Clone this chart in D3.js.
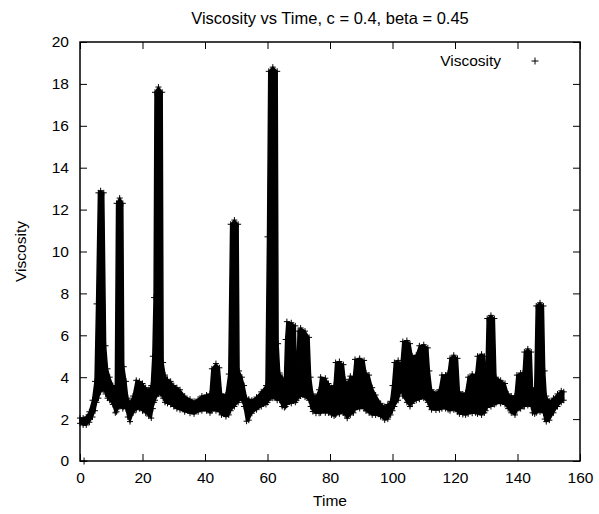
<!DOCTYPE html>
<html>
<head>
<meta charset="utf-8">
<script src="https://cdn.jsdelivr.net/npm/d3@7/dist/d3.min.js"></script>
<style>
  html, body { margin: 0; padding: 0; background: #fff; }
  svg { display: block; font-family: "Liberation Sans", Arial, sans-serif; }
</style>
</head>
<body>
<svg id="chart" width="599" height="514"></svg>
<script>
// ---- data (band envelopes of the dense "+" cloud) ----
const time = [0,1,2,3,4,4.8,5.3,5.9,6.6,7.6,8.2,8.8,9.5,10.5,11.3,11.7,12.7,13.7,14.0,14.7,15.3,16,17,18,19,20,21,22,22.8,23.3,23.7,24.0,25.1,26.3,26.6,27.2,28,29,30,31,32,33.5,35.2,36.5,37.8,39,40.5,41.6,42.2,43.5,44.6,45.3,46.7,47.6,48.2,49.4,50.6,50.9,51.8,52.5,53.3,54,55,56.5,58,59.5,60.0,60.4,61.7,63.1,63.4,63.9,64.7,65.4,65.8,66.2,67.6,68.9,69.3,69.8,70.6,72.0,73.3,73.8,74.5,75.5,76.5,77,78.5,79.5,80.5,81.3,81.8,83.0,84.3,84.8,85.5,86.5,87.5,88.0,89.5,90.9,91.5,92.5,93.5,94.6,96.2,97.5,98.5,99.4,100,100.6,101.8,102.7,103.3,104.6,105.6,106.3,107.6,108.6,110,111.3,111.8,112.5,113.9,115,115.8,117,117.8,118.4,119.6,120.8,121.4,122.5,123.4,124.2,125.5,126.6,127.2,128.5,129.4,129.8,130.3,131.5,132.6,133.1,134.6,136,137,138,139.2,139.8,141,141.8,142.2,143.3,144.4,144.8,145.5,146,147.2,148.3,148.7,149.2,150.2,151.5,152.8,154,154.8];
const viscLow = [1.8,1.72,1.72,1.85,2.1,2.4,2.8,3.0,3.3,3.4,3.2,3.0,2.9,2.7,2.3,2.35,2.6,2.5,2.6,2.5,2.1,1.88,2.3,2.45,2.5,2.4,2.3,2.15,2.05,2.5,2.8,2.9,3.2,3.1,3.0,2.8,2.75,2.7,2.6,2.5,2.45,2.35,2.28,2.25,2.35,2.4,2.4,2.3,2.4,2.4,2.35,2.2,2.12,2.2,2.4,2.6,2.8,2.9,2.9,2.6,1.9,1.95,2.28,2.45,2.6,2.7,2.8,2.9,3.0,2.9,3.0,2.9,2.6,2.55,2.6,2.7,2.75,2.8,2.9,3.0,3.1,3.05,2.9,2.6,2.36,2.28,2.28,2.3,2.3,2.3,2.2,2.15,2.2,2.25,2.3,2.2,2.04,2.2,2.3,2.45,2.51,2.5,2.4,2.3,2.2,2.2,2.12,1.96,2.0,2.2,2.4,2.6,2.9,3.35,3.1,2.8,2.6,2.75,2.9,2.95,3.0,2.8,2.6,2.45,2.43,2.45,2.5,2.5,2.45,2.4,2.45,2.35,2.25,2.22,2.2,2.25,2.28,2.3,2.25,2.2,2.3,2.4,2.55,2.6,2.7,2.75,2.75,2.7,2.5,2.3,2.2,2.4,2.5,2.6,2.6,2.65,2.6,2.3,2.25,2.3,2.35,2.3,2.0,1.88,1.95,2.3,2.6,2.8,2.9];
const viscHigh = [2.05,2.05,2.1,2.35,2.9,3.8,7.5,12.8,12.9,12.8,5.5,4.4,4.0,3.6,3.5,12.3,12.55,12.3,4.5,3.8,3.0,2.8,3.1,3.85,3.8,3.7,3.5,3.4,3.6,5.0,7.8,17.6,17.85,17.6,4.7,4.1,3.9,3.8,3.6,3.5,3.4,3.1,2.95,2.85,2.95,3.1,3.15,3.2,4.4,4.65,4.45,3.2,3.15,4.15,11.3,11.5,11.3,4.3,4.0,3.6,3.0,2.95,2.9,3.05,3.3,3.6,10.7,18.6,18.8,18.6,5.6,4.2,4.0,3.8,5.8,6.65,6.6,6.45,4.0,6.2,6.35,6.2,5.9,4.0,3.2,3.07,3.4,4.0,3.95,3.7,3.5,3.6,4.7,4.75,4.6,3.9,3.7,4.05,4.0,4.85,4.9,4.8,4.2,4.1,3.5,3.15,2.75,2.6,2.7,2.85,3.6,4.7,4.8,4.6,5.7,5.75,5.6,5.0,5.05,5.5,5.55,5.4,4.3,3.4,3.25,3.4,4.1,4.1,4.2,4.9,5.05,4.9,3.3,3.2,3.25,4.0,4.15,4.1,5.0,5.1,5.0,3.6,6.8,6.95,6.8,4.0,3.85,3.7,3.2,3.1,3.1,4.1,4.2,4.2,5.2,5.35,5.2,3.5,3.4,7.4,7.55,7.4,4.3,3.1,2.85,3.0,3.2,3.35,3.3];
// isolated point sitting on the time axis
const extraTime = [1.3];
const extraVisc = [0];

const xTicks = [0,20,40,60,80,100,120,140,160];
const yTicks = [0,2,4,6,8,10,12,14,16,18,20];
const titleText = "Viscosity vs Time, c = 0.4, beta = 0.45";
const xLabel = "Time";
const yLabel = "Viscosity";
const seriesName = "Viscosity";

// ---- layout ----
const svg = d3.select("#chart");
const L = 80, R = 580, T = 42, B = 461;
const x = d3.scaleLinear().domain([0,160]).range([L,R]);
const y = d3.scaleLinear().domain([0,20]).range([B,T]);

const rows = time.map((t,i) => ({t, lo: viscLow[i], hi: viscHigh[i]}));

// band (dense cloud of + marks)
svg.append("path")
  .datum(rows)
  .attr("d", d3.area().x(d => x(d.t)).y0(d => y(d.lo)).y1(d => y(d.hi)))
  .attr("fill", "#000")
  .attr("stroke", "#000")
  .attr("stroke-width", 1.5);

// + markers at envelope samples
function plus(g, cx, cy, s) {
  g.append("path")
    .attr("d", `M${cx-s},${cy}H${cx+s}M${cx},${cy-s}V${cy+s}`)
    .attr("stroke", "#000").attr("stroke-width", 1).attr("fill", "none");
}
const marks = svg.append("g");
rows.forEach(d => { plus(marks, x(d.t), y(d.lo), 3); plus(marks, x(d.t), y(d.hi), 3); });
extraTime.forEach((t,i) => plus(marks, x(t), y(extraVisc[i]), 3.5));

// ---- axes (gnuplot style: inward ticks, mirrored) ----
const fs = 15.5;
const axB = svg.append("g").attr("transform", `translate(0,${B})`)
  .call(d3.axisBottom(x).tickValues(xTicks).tickFormat(d3.format("d")).tickSizeInner(-7).tickSizeOuter(0).tickPadding(11));
const axT = svg.append("g").attr("transform", `translate(0,${T})`)
  .call(d3.axisTop(x).tickValues(xTicks).tickFormat("").tickSizeInner(-7).tickSizeOuter(0));
const axL = svg.append("g").attr("transform", `translate(${L},0)`)
  .call(d3.axisLeft(y).tickValues(yTicks).tickFormat(d3.format("d")).tickSizeInner(-7).tickSizeOuter(0).tickPadding(11));
const axR = svg.append("g").attr("transform", `translate(${R},0)`)
  .call(d3.axisRight(y).tickValues(yTicks).tickFormat("").tickSizeInner(-7).tickSizeOuter(0));
[axB, axT, axL, axR].forEach(a => {
  a.select(".domain").remove();
  a.selectAll(".tick line").attr("stroke", "#000").attr("stroke-width", 1);
  a.selectAll("text").attr("font-size", fs).attr("fill", "#000")
    .attr("font-family", "'Liberation Sans', Arial, sans-serif");
});

// border
svg.append("rect").attr("x", L).attr("y", T).attr("width", R-L).attr("height", B-T)
  .attr("fill", "none").attr("stroke", "#000").attr("stroke-width", 1.5);

// ---- texts ----
svg.append("text").attr("x", (L+R)/2).attr("y", 24).attr("text-anchor", "middle")
  .attr("font-size", 16.5).text(titleText);
svg.append("text").attr("x", (L+R)/2).attr("y", 506).attr("text-anchor", "middle")
  .attr("font-size", fs).text(xLabel);
svg.append("text").attr("transform", `translate(26,${(T+B)/2}) rotate(-90)`)
  .attr("text-anchor", "middle").attr("font-size", fs).text(yLabel);

// legend
svg.append("text").attr("x", 501).attr("y", 66).attr("text-anchor", "end")
  .attr("font-size", fs).text(seriesName);
plus(svg, 535, 61, 3.5);
</script>
</body>
</html>
